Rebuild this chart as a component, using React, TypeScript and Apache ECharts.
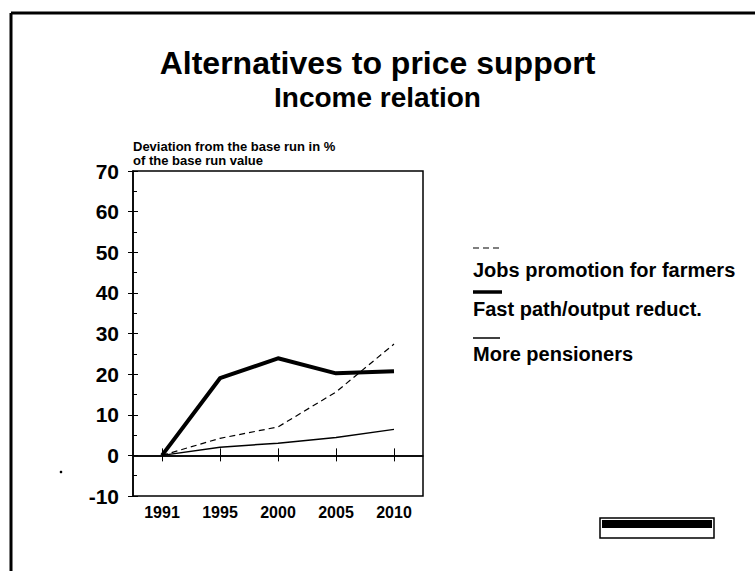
import React, { useEffect, useRef } from "react";
import * as echarts from "echarts";

const years = ["1991", "1995", "2000", "2005", "2010"];
const jobsPromotion = [0, 4.2, 7.0, 15.6, 27.4];
const fastPath = [0, 19.0, 23.9, 20.2, 20.7];
const morePensioners = [0, 2.0, 3.0, 4.4, 6.4];
const seriesNames = ["Jobs promotion for farmers", "Fast path/output reduct.", "More pensioners"];
const yMin = -10;
const yMax = 70;
const yStep = 10;
const titleText = "Alternatives to price support";
const subtitleText = "Income relation";
const yAxisName = "Deviation from the base run in %\nof the base run value";

const FONT = "'Liberation Sans', Arial, Helvetica, sans-serif";

export default function App() {
  const ref = useRef<HTMLDivElement>(null);
  useEffect(() => {
    if (!ref.current) return;
    const chart = echarts.init(ref.current, undefined, { renderer: "svg" });
    const grid = { left: 133, top: 171, width: 290, height: 325 };
    const legendX = 473;
    const legendRows = [
      { lineY: 248, textY: 270, type: "dashed", width: 1.2, len: 27 },
      { lineY: 292, textY: 309, type: "solid", width: 3.5, len: 29 },
      { lineY: 338, textY: 354, type: "solid", width: 1.5, len: 27 },
    ];
    const graphic: any[] = [
      // outer frame (left and top edges)
      { type: "line", shape: { x1: 11, y1: 13, x2: 755, y2: 13 }, style: { stroke: "#000", lineWidth: 3 } },
      { type: "line", shape: { x1: 11, y1: 13, x2: 11, y2: 571 }, style: { stroke: "#000", lineWidth: 3 } },
      // source box
      { type: "rect", shape: { x: 600, y: 518, width: 114, height: 20 }, style: { fill: "#fff", stroke: "#000", lineWidth: 1.5 } },
      { type: "rect", shape: { x: 602, y: 520, width: 110, height: 8 }, style: { fill: "#000" } },
      // stray dot
      { type: "circle", shape: { cx: 61, cy: 472, r: 1.3 }, style: { fill: "#000" } },
    ];
    legendRows.forEach((r, i) => {
      graphic.push({
        type: "line",
        shape: { x1: legendX, y1: r.lineY, x2: legendX + r.len, y2: r.lineY },
        style: { stroke: "#000", lineWidth: r.width, lineDash: r.type === "dashed" ? [6, 4] : null },
      });
      graphic.push({
        type: "text",
        x: legendX,
        y: r.textY,
        style: {
          text: seriesNames[i],
          fill: "#000",
          font: `bold 20px ${FONT}`,
          verticalAlign: "middle",
          align: "left",
        },
      });
    });

    chart.setOption({
      animation: false,
      backgroundColor: "#fff",
      title: {
        text: titleText,
        subtext: subtitleText,
        left: "center",
        top: 40,
        itemGap: 1,
        textStyle: { fontFamily: FONT, fontSize: 32, fontWeight: "bold", color: "#000", lineHeight: 36 },
        subtextStyle: { fontFamily: FONT, fontSize: 28, fontWeight: "bold", color: "#000", lineHeight: 30 },
      },
      grid: { ...grid, show: true, borderColor: "#000", borderWidth: 1.5, backgroundColor: "transparent" },
      xAxis: [
        {
          type: "category",
          data: years,
          boundaryGap: true,
          position: "bottom",
          axisLine: { show: true, lineStyle: { color: "#000", width: 1.5 } },
          axisTick: { show: true, alignWithLabel: true, inside: true, length: 7, lineStyle: { color: "#000", width: 1 } },
          axisLabel: { color: "#000", fontFamily: FONT, fontSize: 16, fontWeight: "bold", margin: 8 },
          splitLine: { show: false },
        },
        {
          type: "category",
          data: years,
          boundaryGap: true,
          position: "bottom",
          axisLine: { show: false },
          axisTick: { show: true, alignWithLabel: true, inside: false, length: 6, lineStyle: { color: "#000", width: 1 } },
          axisLabel: { show: false },
          splitLine: { show: false },
        },
      ],
      yAxis: [
        {
          type: "value",
          min: yMin,
          max: yMax,
          interval: yStep,
          name: yAxisName,
          nameLocation: "end",
          nameGap: 4,
          nameTextStyle: {
            align: "left",
            verticalAlign: "bottom",
            fontFamily: FONT,
            fontSize: 13,
            fontWeight: "bold",
            color: "#000",
            lineHeight: 14,
          },
          axisLine: { show: true, lineStyle: { color: "#000", width: 1.5 } },
          axisTick: { show: true, inside: false, length: 5, lineStyle: { color: "#000", width: 1 } },
          axisLabel: { color: "#000", fontFamily: FONT, fontSize: 21, fontWeight: "bold", margin: 14 },
          splitLine: { show: false },
        },
        {
          type: "value",
          min: yMin,
          max: yMax,
          interval: yStep,
          position: "left",
          axisLine: { show: false },
          axisTick: { show: true, inside: true, length: 5, lineStyle: { color: "#000", width: 1 } },
          minorTick: { show: true, splitNumber: 2, length: 4, lineStyle: { color: "#000", width: 1 } },
          axisLabel: { show: false },
          splitLine: { show: false },
        },
      ],
      series: [
        {
          name: seriesNames[0],
          type: "line",
          data: jobsPromotion,
          symbol: "none",
          lineStyle: { color: "#000", width: 1.2, type: [6, 4] },
          markLine: {
            silent: true,
            symbol: "none",
            label: { show: false },
            lineStyle: { color: "#000", width: 1.5, type: "solid" },
            data: [{ yAxis: 0 }],
          },
        },
        {
          name: seriesNames[1],
          type: "line",
          data: fastPath,
          symbol: "none",
          lineStyle: { color: "#000", width: 4, join: "round" },
        },
        {
          name: seriesNames[2],
          type: "line",
          data: morePensioners,
          symbol: "none",
          lineStyle: { color: "#000", width: 1.5 },
        },
      ],
      graphic,
    });
    return () => chart.dispose();
  }, []);
  return <div ref={ref} style={{ position: "absolute", left: 0, top: 0, width: 755, height: 571 }} />;
}
